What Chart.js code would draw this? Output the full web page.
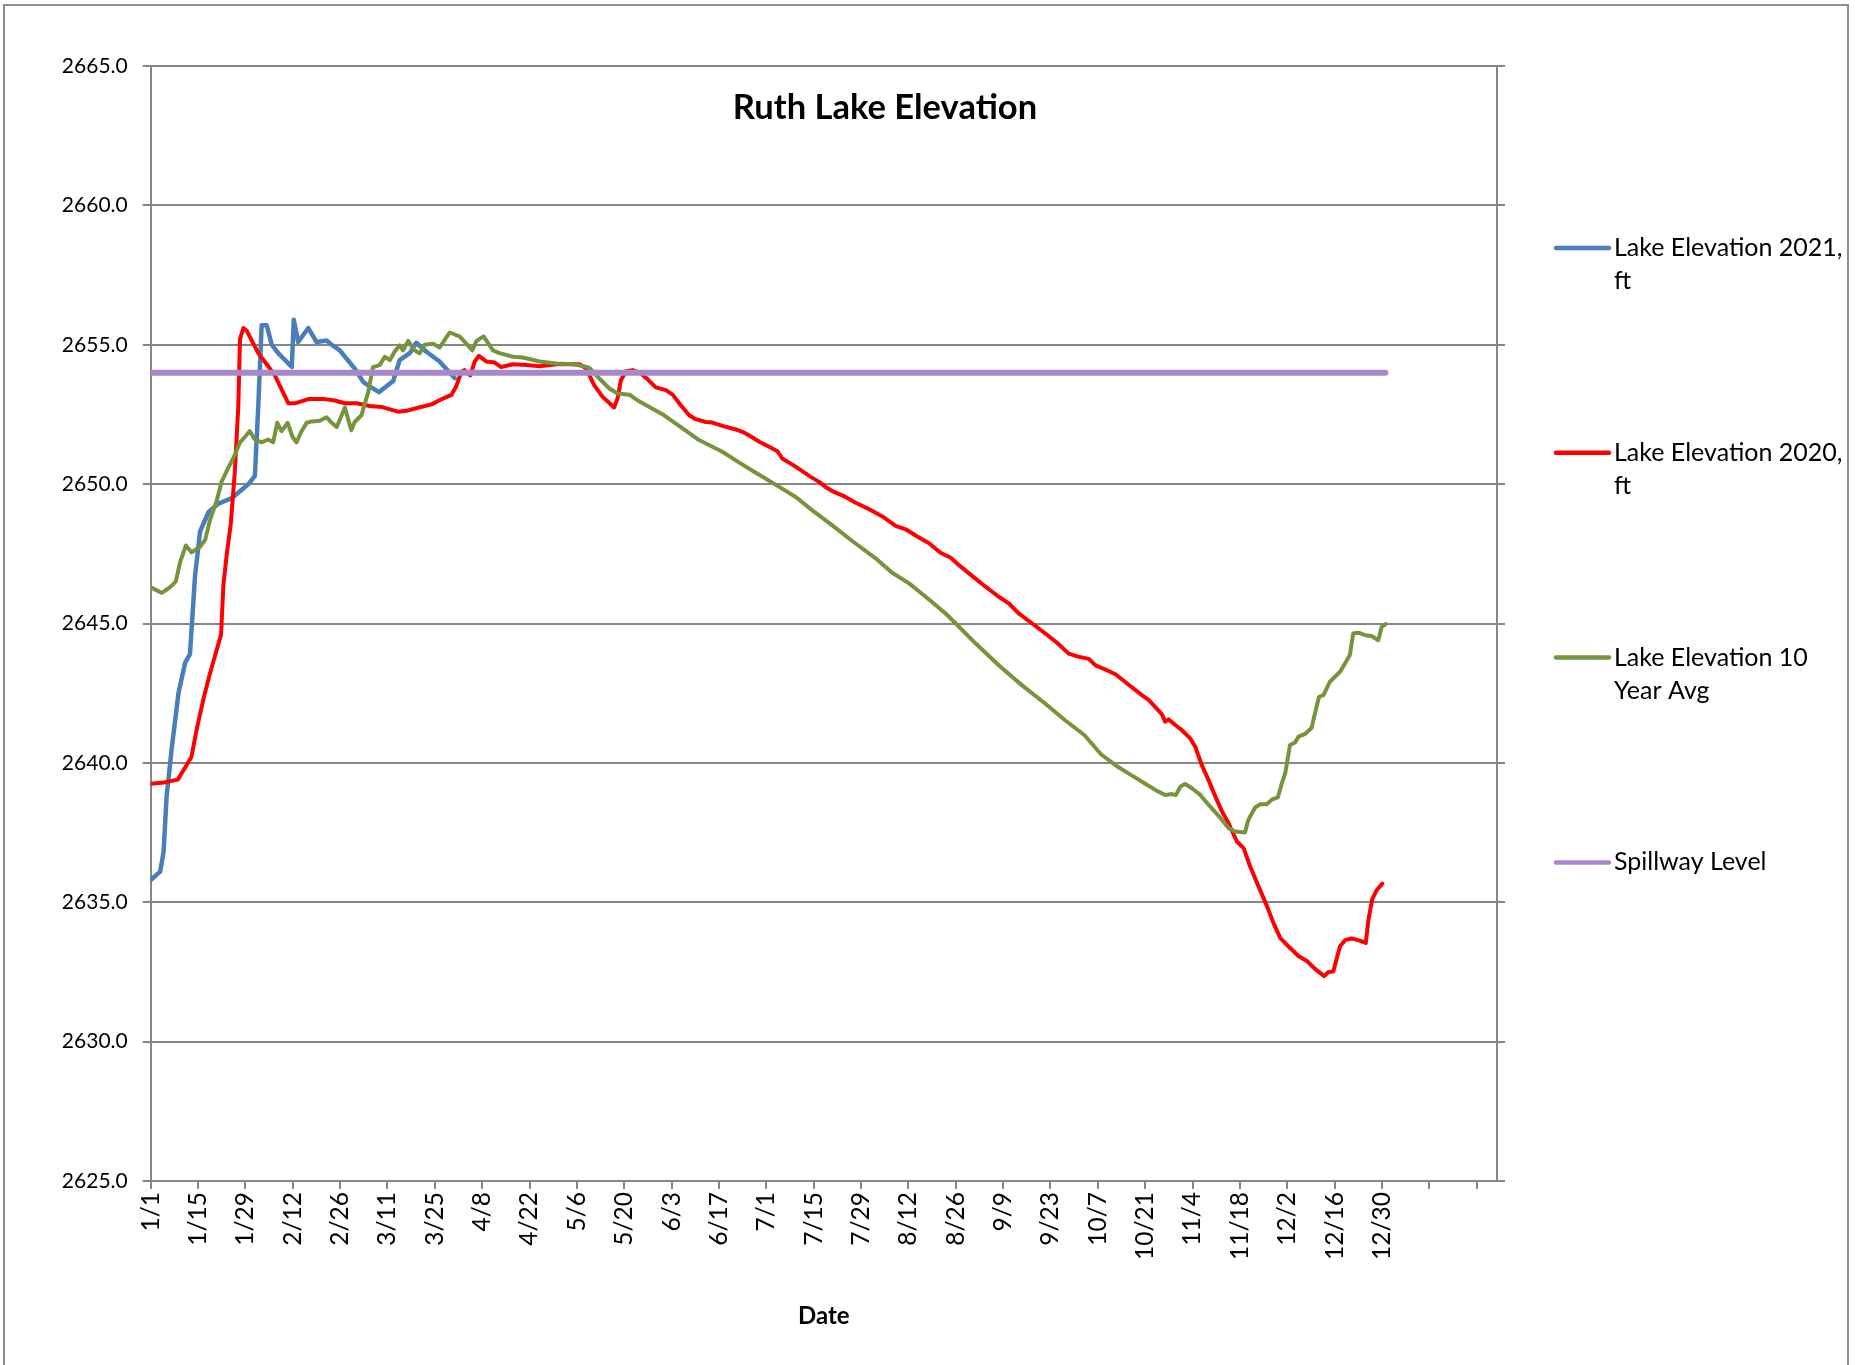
<!DOCTYPE html>
<html>
<head>
<meta charset="utf-8">
<title>Ruth Lake Elevation</title>
<script src="https://cdn.jsdelivr.net/npm/chart.js@4.4.1/dist/chart.umd.min.js"></script>
<style>
  html, body { margin: 0; padding: 0; background: #fff; }
  canvas { display: block; }
</style>
</head>
<body>
<canvas id="lakeChart" width="1856" height="1365"></canvas>
<script>
// chart text
const chartTitle = 'Ruth Lake Elevation';
const xAxisTitle = 'Date';
const seriesNames = ['Lake Elevation 2021, ft', 'Lake Elevation 2020, ft', 'Lake Elevation 10 Year Avg', 'Spillway Level'];

// x axis labels, one every 14 days (day 0 = 1/1), last two ticks have no label
const tickLabels = ['1/1', '1/15', '1/29', '2/12', '2/26', '3/11', '3/25', '4/8', '4/22', '5/6', '5/20', '6/3', '6/17',
    '7/1', '7/15', '7/29', '8/12', '8/26', '9/9', '9/23', '10/7', '10/21', '11/4', '11/18', '12/2', '12/16', '12/30', '', ''];

// 2021 (days since 1/1, elevation ft)
const days2021 = [0, 2.8, 3.8, 4.7, 6.2, 8.2, 10.2, 11.6, 13.1, 14.6, 17.1, 20, 24, 26.9, 28.9, 30.8, 31.8, 32.8, 34.3,
    35.8, 37.7, 41.7, 42.3, 43.6, 46.6, 49, 52, 53.5, 55.9, 57.9, 60.3, 62.8, 64.8, 67.5, 71.7, 73.6, 76.6, 78.5, 81.5, 85.4, 89.9];
const elev2021 = [2635.8, 2636.1, 2636.8, 2638.8, 2640.5, 2642.5, 2643.6, 2643.9, 2646.7, 2648.3, 2649.0, 2649.3, 2649.5,
    2649.8, 2650.0, 2650.3, 2652.8, 2655.7, 2655.7, 2655.0, 2654.7, 2654.2, 2655.9, 2655.1, 2655.6, 2655.1, 2655.15, 2655.0,
    2654.8, 2654.5, 2654.15, 2653.67, 2653.5, 2653.3, 2653.7, 2654.45, 2654.7, 2655.07, 2654.75, 2654.4, 2653.8];

// 2020
const days2020 = [0, 4, 8, 10, 12, 13.6, 15.6, 17.5, 19.5, 20.8, 21.5, 22.5, 23.7, 24.9, 25.9, 26.4, 27.4, 28.4, 31.8, 34.3,
    36.7, 38.7, 40.7, 42.6, 46.6, 51.5, 54.4, 57.4, 60.8, 64.8, 68.2, 73.1, 75.6, 79, 83, 86.4, 88.9, 90.3, 91.8, 92.8, 94.5,
    95.8, 97, 99.2, 101.7, 103.6, 107.1, 111, 115, 119.9, 126.8, 128.7, 131.1, 133.6, 135.6, 137, 138, 139, 140.5, 142.5,
    144.9, 146.9, 149.3, 152.3, 154.3, 156.7, 159.2, 161.1, 164.1, 166.1, 169, 173, 175.4, 177.9, 179.9, 182.8, 185.3, 186.7,
    189.7, 192.2, 195.1, 197.6, 199.5, 202, 205.4, 208.4, 212.4, 216.3, 220.2, 223.2, 226.6, 230.1, 233.5, 236.5, 238.9,
    242.9, 246.8, 250.7, 253.7, 256.6, 260.6, 264.5, 268, 271.4, 273.9, 277.3, 279.3, 282.2, 285.2, 288.1, 293.1, 295, 297,
    298.9, 299.9, 300.9, 302.9, 304.8, 307.3, 308.8, 310.7, 312.7, 314.7, 316.7, 318.6, 321.1, 323.1, 325, 327.5, 330, 331.9,
    333.9, 336.3, 339.3, 341.8, 344.2, 346.9, 348.1, 349.6, 351.6, 353.1, 355, 357, 359.2, 360, 361.1, 362.4, 364.1];
const elev2020 = [2639.25, 2639.3, 2639.4, 2639.8, 2640.2, 2641.2, 2642.3, 2643.2, 2644.05, 2644.6, 2646.4, 2647.5, 2648.6,
    2650.5, 2652.8, 2655.2, 2655.6, 2655.5, 2654.7, 2654.3, 2653.9, 2653.4, 2652.9, 2652.9, 2653.05, 2653.05, 2653.0, 2652.9,
    2652.9, 2652.8, 2652.77, 2652.6, 2652.63, 2652.74, 2652.86, 2653.07, 2653.2, 2653.5, 2654.03, 2654.09, 2653.9, 2654.4,
    2654.6, 2654.4, 2654.36, 2654.2, 2654.3, 2654.27, 2654.23, 2654.3, 2654.3, 2654.15, 2653.55, 2653.13, 2652.91, 2652.75,
    2653.07, 2653.73, 2654.05, 2654.09, 2653.97, 2653.76, 2653.47, 2653.37, 2653.21, 2652.83, 2652.47, 2652.33, 2652.23,
    2652.21, 2652.09, 2651.96, 2651.85, 2651.67, 2651.52, 2651.34, 2651.18, 2650.92, 2650.7, 2650.5, 2650.26, 2650.08,
    2649.9, 2649.72, 2649.54, 2649.33, 2649.1, 2648.84, 2648.5, 2648.38, 2648.12, 2647.88, 2647.54, 2647.36, 2647.1, 2646.7,
    2646.32, 2645.96, 2645.72, 2645.36, 2645.0, 2644.64, 2644.3, 2643.92, 2643.82, 2643.73, 2643.5, 2643.35, 2643.18, 2642.9,
    2642.42, 2642.26, 2642.0, 2641.75, 2641.48, 2641.56, 2641.36, 2641.18, 2640.88, 2640.58, 2639.93, 2639.39, 2638.8,
    2638.26, 2637.84, 2637.18, 2636.94, 2636.29, 2635.57, 2634.86, 2634.26, 2633.72, 2633.42, 2633.07, 2632.89, 2632.61,
    2632.35, 2632.49, 2632.52, 2633.42, 2633.64, 2633.7, 2633.64, 2633.54, 2634.38, 2635.1, 2635.43, 2635.67];

// 10 year average
const daysAvg = [0, 3.3, 5.7, 7.4, 8.7, 10.4, 12.1, 14.6, 16.1, 17.5, 19.5, 21, 23, 24.7, 26.4, 27.9, 29.3, 30.8, 32.8, 34.7,
    36.2, 37.4, 38.7, 40.5, 41.9, 43.1, 44.6, 46.1, 47.6, 50, 52, 53.5, 55, 57.4, 59.3, 60.3, 62.3, 64.3, 65.7, 67.7, 69.2,
    70.7, 72.1, 73.6, 74.6, 76.1, 78, 79.5, 81, 83.5, 85.4, 88.4, 91.3, 93.3, 95.1, 96.3, 98.4, 101.2, 103.1, 107.1, 110, 115,
    119.9, 124.8, 127.8, 129.7, 132.6, 135.6, 138, 141.5, 144.4, 147.4, 151.8, 156.2, 162.1, 169, 174, 178.9, 185.8, 190.7,
    195.6, 201.5, 207.4, 214.3, 219.2, 224.2, 229.1, 235, 238, 243.9, 250.7, 257.6, 264.5, 270.4, 276, 281, 286, 290, 295,
    297, 299.9, 301.9, 303.1, 304.4, 305.8, 307.8, 310.3, 312.7, 315.7, 318.6, 320.6, 323.5, 324.5, 326.5, 328, 329.9, 331.4,
    333.2, 334.4, 335.4, 336.8, 338.3, 339.3, 341.3, 343.2, 344.2, 345.4, 346.7, 348.6, 350.1, 351.6, 353.1, 354.5, 355.5,
    357, 359, 360.9, 362.9, 363.9, 365.1];
const elevAvg = [2646.3, 2646.1, 2646.3, 2646.5, 2647.2, 2647.8, 2647.55, 2647.76, 2648.0, 2648.7, 2649.4, 2650.1, 2650.6,
    2651.0, 2651.5, 2651.7, 2651.9, 2651.6, 2651.5, 2651.6, 2651.5, 2652.2, 2651.9, 2652.2, 2651.7, 2651.5, 2651.9, 2652.2,
    2652.25, 2652.27, 2652.4, 2652.2, 2652.05, 2652.75, 2651.93, 2652.23, 2652.47, 2653.3, 2654.2, 2654.27, 2654.57, 2654.45,
    2654.75, 2654.98, 2654.8, 2655.14, 2654.8, 2654.69, 2655.0, 2655.04, 2654.9, 2655.44, 2655.3, 2655.04, 2654.8, 2655.14,
    2655.3, 2654.8, 2654.7, 2654.57, 2654.54, 2654.4, 2654.33, 2654.3, 2654.24, 2654.17, 2653.79, 2653.43, 2653.25, 2653.21,
    2652.97, 2652.77, 2652.47, 2652.09, 2651.58, 2651.16, 2650.77, 2650.41, 2649.9, 2649.54, 2649.06, 2648.52, 2647.96,
    2647.34, 2646.82, 2646.44, 2645.96, 2645.36, 2645.0, 2644.28, 2643.5, 2642.78, 2642.12, 2641.52, 2641.0, 2640.3, 2639.85,
    2639.55, 2639.18, 2639.03, 2638.85, 2638.88, 2638.85, 2639.15, 2639.24, 2639.09, 2638.85, 2638.5, 2638.1, 2637.66,
    2637.54, 2637.5, 2637.96, 2638.4, 2638.52, 2638.52, 2638.68, 2638.76, 2639.27, 2639.63, 2640.64, 2640.73, 2640.94,
    2641.04, 2641.26, 2641.78, 2642.37, 2642.43, 2642.91, 2643.09, 2643.27, 2643.57, 2643.87, 2644.64, 2644.67, 2644.58,
    2644.55, 2644.4, 2644.88, 2644.98];

// spillway
const daysSpillway = [0, 365];
const elevSpillway = [2654.0, 2654.0];

const fontFamily = 'Lato, "Liberation Sans", sans-serif';
const gridGray = '#868686';

function toPoints(days, vals) {
    return days.map((d, i) => ({ x: d, y: vals[i] }));
}

// grey frame round the whole chart
const framePlugin = {
    id: 'frame',
    beforeDraw(chart) {
        const ctx = chart.ctx;
        ctx.save();
        ctx.fillStyle = '#fff';
        ctx.fillRect(0, 0, chart.width, chart.height);
        ctx.strokeStyle = '#8e8e8e';
        ctx.lineWidth = 2;
        ctx.strokeRect(4, 5, 1844, 1400);
        ctx.restore();
    }
};

// title sits inside the plot area, like the original
const titlePlugin = {
    id: 'innerTitle',
    afterDraw(chart) {
        const ctx = chart.ctx;
        ctx.save();
        ctx.font = 'bold 34.5px ' + fontFamily;
        ctx.fillStyle = '#000';
        ctx.textAlign = 'center';
        ctx.textBaseline = 'middle';
        ctx.fillText(chartTitle, 885, 108);
        ctx.restore();
    }
};

function wrapText(ctx, text, maxWidth) {
    const words = text.split(' ');
    const lines = [];
    let line = '';
    words.forEach(w => {
        const test = line ? line + ' ' + w : w;
        if (line && ctx.measureText(test).width > maxWidth) {
            lines.push(line);
            line = w;
        } else {
            line = test;
        }
    });
    if (line) lines.push(line);
    return lines;
}

// legend on the right, wrapped text and wide spacing
const legendPlugin = {
    id: 'sideLegend',
    afterDraw(chart) {
        const ctx = chart.ctx;
        ctx.save();
        ctx.font = '25px ' + fontFamily;
        ctx.textBaseline = 'middle';
        chart.data.datasets.forEach((ds, i) => {
            const y = 248 + i * 204.8;
            ctx.strokeStyle = ds.borderColor;
            ctx.lineWidth = 4.5;
            ctx.lineCap = 'round';
            ctx.beginPath();
            ctx.moveTo(1556, y);
            ctx.lineTo(1609, y);
            ctx.stroke();
            ctx.fillStyle = '#000';
            wrapText(ctx, ds.label, 232).forEach((ln, j) => {
                ctx.fillText(ln, 1614, y + j * 33);
            });
        });
        ctx.restore();
    }
};

const ctx = document.getElementById('lakeChart').getContext('2d');
new Chart(ctx, {
    type: 'line',
    data: {
        datasets: [
            { label: seriesNames[0], data: toPoints(days2021, elev2021), borderColor: '#4a7ebb', borderWidth: 4.5, order: 4 },
            { label: seriesNames[1], data: toPoints(days2020, elev2020), borderColor: '#ff0000', borderWidth: 4, order: 3 },
            { label: seriesNames[2], data: toPoints(daysAvg, elevAvg), borderColor: '#77933c', borderWidth: 4, order: 2 },
            { label: seriesNames[3], data: toPoints(daysSpillway, elevSpillway), borderColor: '#a888cc', borderWidth: 6, order: 1 }
        ]
    },
    options: {
        responsive: false,
        animation: false,
        devicePixelRatio: 1,
        layout: { padding: { top: 66, right: 351, bottom: 0, left: 0 } },
        elements: {
            point: { radius: 0 },
            line: { tension: 0, fill: false, borderJoinStyle: 'round', borderCapStyle: 'round' }
        },
        plugins: {
            legend: { display: false },
            title: { display: false },
            tooltip: { enabled: false }
        },
        scales: {
            x: {
                type: 'linear',
                min: 0,
                max: 398,
                afterFit: s => { s.height = 1365 - 1181; },
                ticks: {
                    stepSize: 14,
                    includeBounds: false,
                    autoSkip: false,
                    minRotation: 90,
                    maxRotation: 90,
                    padding: 3,
                    color: '#000',
                    font: { family: fontFamily, size: 24.5 },
                    callback: (v, i) => tickLabels[i] || ''
                },
                grid: { drawOnChartArea: false, drawTicks: true, tickLength: 8, color: gridGray, lineWidth: 2 },
                border: { display: true, color: gridGray, width: 2 },
                title: {
                    display: true,
                    text: xAxisTitle,
                    color: '#000',
                    font: { family: fontFamily, size: 24, weight: 'bold' },
                    padding: { top: 0, bottom: 34 }
                }
            },
            y: {
                type: 'linear',
                position: 'left',
                min: 2625,
                max: 2665,
                afterFit: s => { s.width = 150.7; },
                ticks: {
                    stepSize: 5,
                    padding: 15,
                    color: '#000',
                    font: { family: fontFamily, size: 21 },
                    callback: v => v.toFixed(1)
                },
                grid: { color: gridGray, lineWidth: 2, tickLength: 8, drawTicks: true },
                border: { display: true, color: gridGray, width: 2 }
            },
            y2: {
                type: 'linear',
                position: 'right',
                min: 2625,
                max: 2665,
                afterFit: s => { s.width = 8; },
                ticks: { display: false, stepSize: 5 },
                grid: { drawOnChartArea: false, tickLength: 8, color: gridGray, lineWidth: 2 },
                border: { display: true, color: gridGray, width: 2 }
            }
        }
    },
    plugins: [framePlugin, titlePlugin, legendPlugin]
});
</script>
</body>
</html>
